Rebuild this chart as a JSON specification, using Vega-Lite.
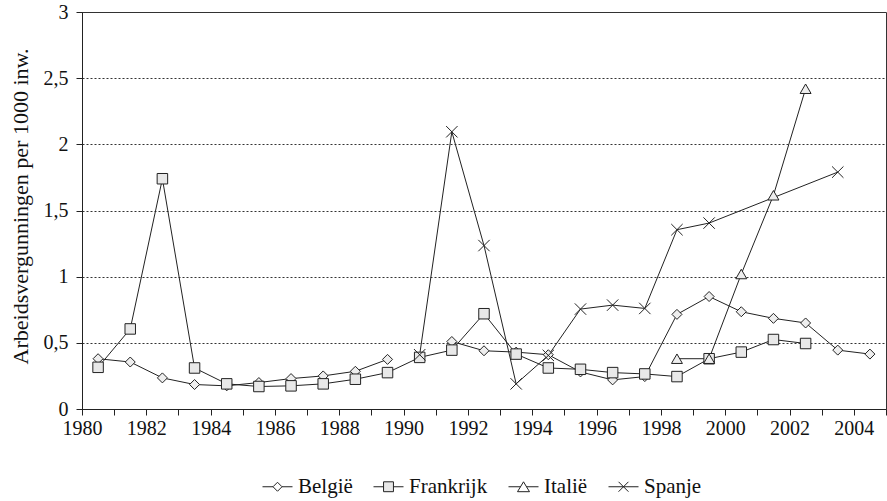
{
  "$schema": "https://vega.github.io/schema/vega-lite/v6.json",
  "width": 804,
  "height": 397,
  "autosize": {"type": "none"},
  "padding": {"left": 82, "top": 12, "right": 1, "bottom": 92},
  "background": "white",
  "data": {
    "values": [
      {"Land": "België", "jaar": 1980, "waarde": 0.38},
      {"Land": "België", "jaar": 1981, "waarde": 0.355},
      {"Land": "België", "jaar": 1982, "waarde": 0.235},
      {"Land": "België", "jaar": 1983, "waarde": 0.185},
      {"Land": "België", "jaar": 1984, "waarde": 0.175},
      {"Land": "België", "jaar": 1985, "waarde": 0.2},
      {"Land": "België", "jaar": 1986, "waarde": 0.23},
      {"Land": "België", "jaar": 1987, "waarde": 0.25},
      {"Land": "België", "jaar": 1988, "waarde": 0.285},
      {"Land": "België", "jaar": 1989, "waarde": 0.375},
      {"Land": "België", "jaar": 1990, "waarde": null},
      {"Land": "België", "jaar": 1991, "waarde": 0.51},
      {"Land": "België", "jaar": 1992, "waarde": 0.44},
      {"Land": "België", "jaar": 1993, "waarde": 0.43},
      {"Land": "België", "jaar": 1994, "waarde": 0.41},
      {"Land": "België", "jaar": 1995, "waarde": 0.28},
      {"Land": "België", "jaar": 1996, "waarde": 0.22},
      {"Land": "België", "jaar": 1997, "waarde": 0.245},
      {"Land": "België", "jaar": 1998, "waarde": 0.715},
      {"Land": "België", "jaar": 1999, "waarde": 0.85},
      {"Land": "België", "jaar": 2000, "waarde": 0.735},
      {"Land": "België", "jaar": 2001, "waarde": 0.685},
      {"Land": "België", "jaar": 2002, "waarde": 0.65},
      {"Land": "België", "jaar": 2003, "waarde": 0.445},
      {"Land": "België", "jaar": 2004, "waarde": 0.415},
      {"Land": "Frankrijk", "jaar": 1980, "waarde": 0.315},
      {"Land": "Frankrijk", "jaar": 1981, "waarde": 0.605},
      {"Land": "Frankrijk", "jaar": 1982, "waarde": 1.74},
      {"Land": "Frankrijk", "jaar": 1983, "waarde": 0.31},
      {"Land": "Frankrijk", "jaar": 1984, "waarde": 0.19},
      {"Land": "Frankrijk", "jaar": 1985, "waarde": 0.17},
      {"Land": "Frankrijk", "jaar": 1986, "waarde": 0.175},
      {"Land": "Frankrijk", "jaar": 1987, "waarde": 0.19},
      {"Land": "Frankrijk", "jaar": 1988, "waarde": 0.225},
      {"Land": "Frankrijk", "jaar": 1989, "waarde": 0.275},
      {"Land": "Frankrijk", "jaar": 1990, "waarde": 0.39},
      {"Land": "Frankrijk", "jaar": 1991, "waarde": 0.445},
      {"Land": "Frankrijk", "jaar": 1992, "waarde": 0.72},
      {"Land": "Frankrijk", "jaar": 1993, "waarde": 0.415},
      {"Land": "Frankrijk", "jaar": 1994, "waarde": 0.31},
      {"Land": "Frankrijk", "jaar": 1995, "waarde": 0.3},
      {"Land": "Frankrijk", "jaar": 1996, "waarde": 0.275},
      {"Land": "Frankrijk", "jaar": 1997, "waarde": 0.265},
      {"Land": "Frankrijk", "jaar": 1998, "waarde": 0.245},
      {"Land": "Frankrijk", "jaar": 1999, "waarde": 0.38},
      {"Land": "Frankrijk", "jaar": 2000, "waarde": 0.43},
      {"Land": "Frankrijk", "jaar": 2001, "waarde": 0.525},
      {"Land": "Frankrijk", "jaar": 2002, "waarde": 0.495},
      {"Land": "Italië", "jaar": 1998, "waarde": 0.38},
      {"Land": "Italië", "jaar": 1999, "waarde": 0.38},
      {"Land": "Italië", "jaar": 2000, "waarde": 1.02},
      {"Land": "Italië", "jaar": 2001, "waarde": 1.615},
      {"Land": "Italië", "jaar": 2002, "waarde": 2.42},
      {"Land": "Spanje", "jaar": 1990, "waarde": 0.41},
      {"Land": "Spanje", "jaar": 1991, "waarde": 2.095},
      {"Land": "Spanje", "jaar": 1992, "waarde": 1.235},
      {"Land": "Spanje", "jaar": 1993, "waarde": 0.19},
      {"Land": "Spanje", "jaar": 1994, "waarde": 0.405},
      {"Land": "Spanje", "jaar": 1995, "waarde": 0.755},
      {"Land": "Spanje", "jaar": 1996, "waarde": 0.785},
      {"Land": "Spanje", "jaar": 1997, "waarde": 0.76},
      {"Land": "Spanje", "jaar": 1998, "waarde": 1.355},
      {"Land": "Spanje", "jaar": 1999, "waarde": 1.405},
      {"Land": "Spanje", "jaar": 2003, "waarde": 1.79}
    ]
  },
  "encoding": {
    "x": {
      "field": "jaar",
      "type": "quantitative",
      "scale": {"domain": [1979.5, 2004.5], "nice": false, "zero": false},
      "axis": {
        "title": null,
        "values": [1979.5, 1980.5, 1981.5, 1982.5, 1983.5, 1984.5, 1985.5, 1986.5, 1987.5, 1988.5, 1989.5, 1990.5, 1991.5, 1992.5, 1993.5, 1994.5, 1995.5, 1996.5, 1997.5, 1998.5, 1999.5, 2000.5, 2001.5, 2002.5, 2003.5, 2004.5],
        "labelExpr": "(datum.value + 0.5) % 2 === 0 && datum.value < 2004 ? format(datum.value + 0.5, 'd') : ''",
        "labelOverlap": false,
        "labelFlush": false,
        "labelFont": "Liberation Serif",
        "labelFontSize": 20,
        "grid": false,
        "tickSize": 6,
        "labelPadding": 3
      }
    },
    "y": {
      "field": "waarde",
      "type": "quantitative",
      "scale": {"domain": [0, 3], "nice": false, "zero": true},
      "axis": {
        "title": "Arbeidsvergunningen per 1000 inw.",
        "values": [0, 0.5, 1, 1.5, 2, 2.5, 3],
        "labelExpr": "replace(format(datum.value, '~g'), '.', ',')",
        "labelFont": "Liberation Serif",
        "labelFontSize": 20,
        "grid": true,
        "gridDash": [2, 2],
        "gridColor": "#333",
        "gridWidth": 1,
        "tickSize": 6,
        "labelPadding": 8,
        "titleFont": "Liberation Serif",
        "titleX": -55,
        "titleY": 194,
        "titleAngle": 270,
        "titleAlign": "center",
        "titleBaseline": "alphabetic"
      }
    }
  },
  "layer": [
    {
      "mark": {"type": "line", "color": "#222", "strokeWidth": 1, "invalid": "break-paths-show-domains"},
      "encoding": {"detail": {"field": "Land"}}
    },
    {
      "mark": {"type": "point", "filled": false, "color": "#222", "opacity": 1, "strokeWidth": 1, "invalid": "filter"},
      "encoding": {
        "shape": {
          "field": "Land",
          "scale": {"domain": ["België", "Frankrijk", "Italië", "Spanje"], "range": ["diamond", "square", "triangle-up", "M-1,-1L1,1M-1,1L1,-1"]},
          "legend": null
        },
        "fill": {
          "field": "Land",
          "scale": {"domain": ["België", "Frankrijk", "Italië", "Spanje"], "range": ["#eeeeee", "#e8e8e8", "#eeeeee", "transparent"]},
          "legend": null
        },
        "size": {
          "field": "Land",
          "scale": {"domain": ["België", "Frankrijk", "Italië", "Spanje"], "range": [100, 130, 130, 110]},
          "legend": null
        }
      }
    },
    {
      "mark": {"type": "point", "filled": false, "opacity": 1, "strokeWidth": 1, "size": 0, "invalid": "filter"},
      "encoding": {
        "shape": {
          "field": "Land",
          "scale": {
            "domain": ["België", "Frankrijk", "Italië", "Spanje"],
            "range": [
              "M-1,0H-0.3M0.3,0H1M0,-0.3L0.3,0L0,0.3L-0.3,0Z",
              "M-1,0H-0.33M0.33,0H1M-0.33,-0.33H0.33V0.33H-0.33Z",
              "M-1,0H-0.2M0.2,0H1M0,-0.33L0.4,0.33H-0.4Z",
              "M-1,0H1M-0.33,-0.33L0.33,0.33M-0.33,0.33L0.33,-0.33"
            ]
          },
          "legend": {
            "title": null,
            "orient": "none",
            "legendX": 180,
            "legendY": 459,
            "direction": "horizontal",
            "symbolSize": 900,
            "symbolStrokeWidth": 1,
            "labelFont": "Liberation Serif",
            "labelFontSize": 21,
            "labelColor": "#111",
            "labelOffset": 5,
            "columnPadding": 18,
            "padding": 0
          }
        },
        "fill": {
          "field": "Land",
          "scale": {"domain": ["België", "Frankrijk", "Italië", "Spanje"], "range": ["#ffffff", "#e8e8e8", "#ffffff", "transparent"]}
        },
        "stroke": {
          "field": "Land",
          "scale": {"domain": ["België", "Frankrijk", "Italië", "Spanje"], "range": ["#222222", "#222222", "#222222", "#222222"]}
        }
      }
    }
  ],
  "resolve": {"scale": {"shape": "independent", "fill": "independent", "size": "independent", "stroke": "independent"}},
  "config": {
    "font": "Liberation Serif",
    "view": {"stroke": "#333", "strokeWidth": 1},
    "axis": {
      "labelFont": "Liberation Serif",
      "titleFont": "Liberation Serif",
      "labelFontSize": 20,
      "titleFontSize": 22,
      "titleFontWeight": "normal",
      "labelColor": "#111",
      "titleColor": "#111",
      "domainColor": "#222",
      "tickColor": "#222",
      "domainWidth": 1,
      "tickWidth": 1
    }
  }
}
